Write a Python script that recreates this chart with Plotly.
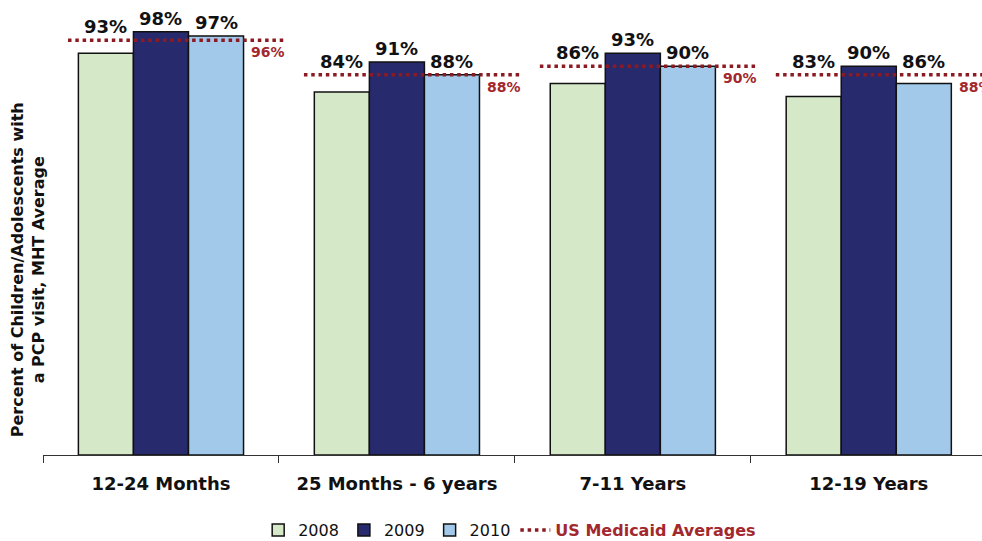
import plotly.graph_objects as go

# Age groups and yearly PCP visit rates (percent)
categories = ["12-24 Months", "25 Months - 6 years", "7-11 Years", "12-19 Years"]
years = ["2008", "2009", "2010"]
rates_2008 = [93, 84, 86, 83]
rates_2009 = [98, 91, 93, 90]
rates_2010 = [97, 88, 90, 86]
medicaid_avg = [96, 88, 90, 88]

series = [rates_2008, rates_2009, rates_2010]
bar_colors = ["#D5E8C8", "#282A6E", "#A2C9EA"]
red_line = "#8C1A22"
red_text = "#A3282E"
label_font = "DejaVu Sans"

pos = list(range(len(categories)))
fig = go.Figure()

for yr, vals, col in zip(years, series, bar_colors):
    fig.add_trace(go.Bar(
        x=pos, y=vals, name=yr,
        marker=dict(color=col, line=dict(color="#111111", width=1.5)),
        hoverinfo="skip",
    ))

# Dotted benchmark segment per age group, extending a little past each group
seg_left, seg_right = -0.394, 0.534
mx, my = [], []
for p, v in zip(pos, medicaid_avg):
    mx += [p + seg_left, p + seg_right, None]
    my += [v, v, None]
fig.add_trace(go.Scatter(
    x=mx, y=my, mode="lines",
    name="<span style='color:%s'><b>US Medicaid Averages</b></span>" % red_text,
    line=dict(color=red_line, width=3.5, dash="3.5px,3.8px"),
    hoverinfo="skip",
))

# Value labels above each bar (lifted above the benchmark line when lower)
bar_w = 0.7 / 3
offsets = [-bar_w, 0, bar_w]
for vals, off in zip(series, offsets):
    for p, v, m in zip(pos, vals, medicaid_avg):
        fig.add_annotation(
            x=p + off, y=max(v, m), text="%d%%" % v,
            xref="x", yref="y", showarrow=False,
            yanchor="bottom", xanchor="center", yshift=1,
            font=dict(family=label_font, size=18, color="#111111", weight="bold"),
        )

# Benchmark value labels at the right end of each dotted segment
for p, m in zip(pos, medicaid_avg):
    fig.add_annotation(
        x=p, y=m, text="%d%%" % m, xref="x", yref="y", showarrow=False,
        xanchor="right", yanchor="top", xshift=126, yshift=-2,
        font=dict(family=label_font, size=14, color=red_text, weight="bold"),
    )

# Vertical axis title
fig.add_annotation(
    text="Percent of Children/Adolescents with<br>a PCP visit, MHT Average",
    xref="paper", yref="paper", x=-0.016, y=0.43,
    xanchor="center", yanchor="middle", textangle=-90, showarrow=False,
    font=dict(family=label_font, size=16, color="#111111", weight="bold"),
)

fig.update_layout(
    width=982, height=541,
    margin=dict(l=43, r=0, t=23, b=86, autoexpand=False),
    paper_bgcolor="white", plot_bgcolor="white",
    barmode="group", bargap=0.3, bargroupgap=0,
    showlegend=True,
    legend=dict(
        orientation="h", x=0.497, xanchor="center",
        yref="container", y=0.02, yanchor="middle",
        font=dict(family=label_font, size=16, color="#111111"),
        itemwidth=30, tracegroupgap=0,
    ),
    font=dict(family=label_font, color="#111111"),
)

fig.update_xaxes(
    range=[-0.5, 3.48],
    tickmode="array", tickvals=pos, ticktext=categories,
    ticks="", ticklabelstandoff=12,
    tickfont=dict(family=label_font, size=18, color="#111111", weight="bold"),
    showline=True, linecolor="#333333", linewidth=1,
    showgrid=False, zeroline=False,
    minor=dict(tickmode="array", tickvals=[p - 0.5 for p in pos],
               ticks="outside", ticklen=7, tickcolor="#333333", tickwidth=1),
)

fig.update_yaxes(
    range=[0, 100], showgrid=False, zeroline=False, showline=False,
    showticklabels=False, ticks="",
)

fig.write_html("out.html")
